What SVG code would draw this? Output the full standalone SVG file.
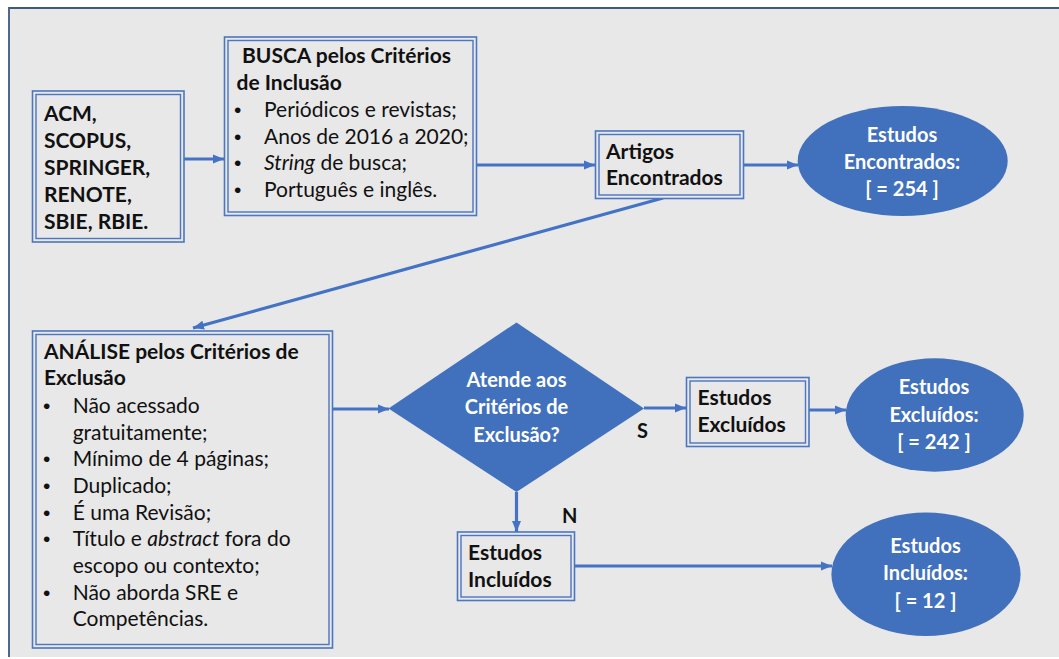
<svg xmlns="http://www.w3.org/2000/svg" width="1059" height="659" viewBox="0 0 1059 659">
<defs>
<style>
.bg{fill:#e8e8e8}
.frame{stroke:#3d5a80;stroke-width:1.8;fill:none}
.bx{fill:#e8e8e8;stroke:#4a76c2;stroke-width:1.6}
.bxi{fill:none;stroke:#4a76c2;stroke-width:1.4}
.sh{fill:#4170bd}
.t{font-family:Lato,"Liberation Sans",sans-serif;font-size:21px;fill:#111}
.b{font-weight:bold}
.bul{font-family:"Liberation Sans",sans-serif;font-size:21px;fill:#111}
.w{font-family:Lato,"Liberation Sans",sans-serif;font-size:20px;font-weight:bold;fill:#ffffff}
.lbl{font-family:Lato,"Liberation Sans",sans-serif;font-size:20px;font-weight:bold;fill:#111}
.c{fill:none;stroke:#4472c4;stroke-width:3.2}
</style>
<marker id="ah" markerWidth="12" markerHeight="10" refX="11" refY="5" orient="auto" markerUnits="userSpaceOnUse">
<path d="M0,0.5 L11,5 L0,9.5 Z" fill="#4472c4"/>
</marker>
</defs>
<rect x="0" y="0" width="1059" height="659" fill="#ffffff"/>
<rect class="bg" x="9" y="8" width="1050" height="649"/>
<path class="frame" d="M9,657 L9,8 L1059,8"/>

<g id="connectors">
<line class="c" x1="184" y1="159" x2="224" y2="159" marker-end="url(#ah)"/>
<line class="c" x1="477" y1="165" x2="595" y2="165" marker-end="url(#ah)"/>
<line class="c" x1="743" y1="165" x2="798" y2="165" marker-end="url(#ah)"/>
<line class="c" x1="663" y1="198" x2="193" y2="328" marker-end="url(#ah)"/>
<line class="c" x1="332" y1="409" x2="389" y2="409" marker-end="url(#ah)"/>
<line class="c" x1="644" y1="408" x2="686" y2="408" marker-end="url(#ah)"/>
<line class="c" x1="809" y1="410" x2="846" y2="410" marker-end="url(#ah)"/>
<line class="c" x1="516.5" y1="492" x2="516.5" y2="532" marker-end="url(#ah)"/>
<line class="c" x1="575" y1="566" x2="832" y2="566" marker-end="url(#ah)"/>
<text class="lbl" x="637" y="438">S</text>
<text class="lbl" x="562" y="523">N</text>
</g>

<g id="bases">
<rect class="bx" x="32.5" y="91" width="151.5" height="151"/>
<rect class="bxi" x="36" y="94.5" width="144.5" height="144"/>
<text class="t b" x="44" y="121">ACM,</text>
<text class="t b" x="44" y="148">SCOPUS,</text>
<text class="t b" x="44" y="175">SPRINGER,</text>
<text class="t b" x="44" y="202">RENOTE,</text>
<text class="t b" x="44" y="229">SBIE, RBIE.</text>
</g>

<g id="busca">
<rect class="bx" x="224.5" y="37" width="252" height="178.5"/>
<rect class="bxi" x="228" y="40.5" width="245" height="171.5"/>
<text class="t b" x="242" y="63">BUSCA pelos Critérios</text>
<text class="t b" x="236.5" y="90">de Inclusão</text>
<text class="bul" x="234" y="117">•</text>
<text class="t" x="264" y="117">Periódicos e revistas;</text>
<text class="bul" x="234" y="143.5">•</text>
<text class="t" x="264" y="143.5">Anos de 2016 a 2020;</text>
<text class="bul" x="234" y="170">•</text>
<text class="t" x="264" y="170"><tspan font-style="italic">String</tspan> de busca;</text>
<text class="bul" x="234" y="197">•</text>
<text class="t" x="264" y="197">Português e inglês.</text>
</g>

<g id="artigos">
<rect class="bx" x="595.5" y="131" width="148" height="67.5"/>
<rect class="bxi" x="599" y="134.5" width="141" height="60.5"/>
<text class="t b" x="606" y="158.5">Artigos</text>
<text class="t b" x="606" y="185">Encontrados</text>
</g>

<g id="encontrados">
<ellipse class="sh" cx="902.7" cy="161" rx="105" ry="55"/>
<text class="w" x="902" y="142" text-anchor="middle">Estudos</text>
<text class="w" x="902" y="168.5" text-anchor="middle">Encontrados:</text>
<text class="w" x="902" y="196" text-anchor="middle">[ = 254 ]</text>
</g>

<g id="analise">
<rect class="bx" x="32.5" y="331" width="300" height="317"/>
<rect class="bxi" x="36" y="334.5" width="293" height="310"/>
<text class="t b" x="44" y="358.5">ANÁLISE pelos Critérios de</text>
<text class="t b" x="44" y="385">Exclusão</text>
<text class="bul" x="43" y="413">•</text>
<text class="t" x="72.7" y="413">Não acessado</text>
<text class="t" x="72.7" y="439.5">gratuitamente;</text>
<text class="bul" x="43" y="466">•</text>
<text class="t" x="72.7" y="466">Mínimo de 4 páginas;</text>
<text class="bul" x="43" y="493">•</text>
<text class="t" x="72.7" y="493">Duplicado;</text>
<text class="bul" x="43" y="519.5">•</text>
<text class="t" x="72.7" y="519.5">É uma Revisão;</text>
<text class="bul" x="43" y="546">•</text>
<text class="t" x="72.7" y="546">Título e <tspan font-style="italic">abstract</tspan> fora do</text>
<text class="t" x="72.7" y="573">escopo ou contexto;</text>
<text class="bul" x="43" y="599.5">•</text>
<text class="t" x="72.7" y="599.5">Não aborda SRE e</text>
<text class="t" x="72.7" y="626">Competências.</text>
</g>

<g id="decisao">
<polygon class="sh" points="516.5,322.5 644,408.5 516.5,492 388.5,408.5"/>
<text class="w" x="516.5" y="387" text-anchor="middle">Atende aos</text>
<text class="w" x="516.5" y="414" text-anchor="middle">Critérios de</text>
<text class="w" x="516.5" y="441.5" text-anchor="middle">Exclusão?</text>
</g>

<g id="excluidos-box">
<rect class="bx" x="686.5" y="377.5" width="122.5" height="69"/>
<rect class="bxi" x="690" y="381" width="115.5" height="62"/>
<text class="t b" x="697.5" y="405">Estudos</text>
<text class="t b" x="697.5" y="431.5">Excluídos</text>
</g>

<g id="excluidos">
<ellipse class="sh" cx="934.7" cy="415" rx="89" ry="56.7"/>
<text class="w" x="934" y="393.5" text-anchor="middle">Estudos</text>
<text class="w" x="934" y="421.5" text-anchor="middle">Excluídos:</text>
<text class="w" x="934" y="448.5" text-anchor="middle">[ = 242 ]</text>
</g>

<g id="incluidos-box">
<rect class="bx" x="457.5" y="532" width="117" height="68.5"/>
<rect class="bxi" x="461" y="535.5" width="110" height="61.5"/>
<text class="t b" x="468" y="560">Estudos</text>
<text class="t b" x="468" y="586.5">Incluídos</text>
</g>

<g id="incluidos">
<ellipse class="sh" cx="926" cy="574.3" rx="94.6" ry="61.7"/>
<text class="w" x="925.5" y="553" text-anchor="middle">Estudos</text>
<text class="w" x="925.5" y="580" text-anchor="middle">Incluídos:</text>
<text class="w" x="925.5" y="607.5" text-anchor="middle">[ = 12 ]</text>
</g>
</svg>
